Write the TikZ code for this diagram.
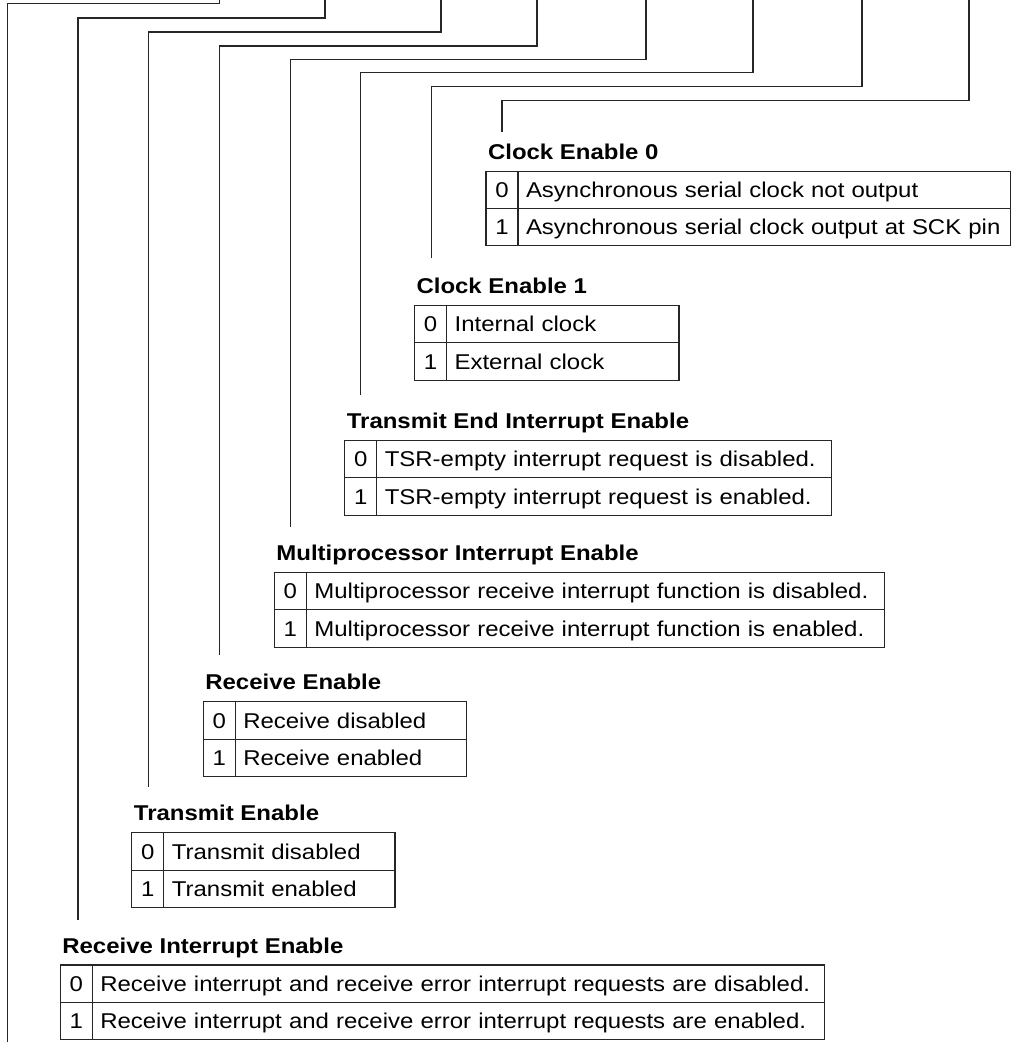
\documentclass[tikz,border=0pt]{standalone}
\usepackage{fontspec}
\setmainfont{Liberation Sans}[FakeStretch=1.12]
\usepackage{tikz}
\usetikzlibrary{positioning}

\begin{document}
\begin{tikzpicture}[x=1pt, y=-1pt, font=\fontsize{21.4}{25}\selectfont,
    line width=1.1pt, draw=black!85,
    ttl/.style={font=\fontsize{21.4}{25}\selectfont\bfseries, anchor=base west, inner sep=0pt},
    bit/.style={draw=black!85, anchor=north west, outer sep=0pt, inner sep=0pt, minimum width=32pt, minimum height=37.2pt, text height=18pt, text depth=2.7pt},
    desc/.style={draw=black!85, anchor=north west, outer sep=0pt, inner xsep=8pt, inner ysep=0pt, minimum height=37.2pt, text height=18pt, text depth=2.7pt, text width=#1, align=left}]
\useasboundingbox (0,0) rectangle (1014,1042);
% Clock Enable 0
\node[ttl] (cke0) at (487.5,159.5) {Clock Enable 0};
\node[bit] (cke0b0) at (486,171.5) {0};
\node[desc=476.7pt, right=0pt of cke0b0] (cke0d0) {Asynchronous serial clock not output};
\node[bit, below=0pt of cke0b0] (cke0b1) {1};
\node[desc=476.7pt, right=0pt of cke0b1] (cke0d1) {Asynchronous serial clock output at SCK pin};
% Clock Enable 1
\node[ttl] (cke1) at (416,293.7) {Clock Enable 1};
\node[bit] (cke1b0) at (414.6,305.7) {0};
\node[desc=216.4pt, right=0pt of cke1b0] (cke1d0) {Internal clock};
\node[bit, below=0pt of cke1b0] (cke1b1) {1};
\node[desc=216.4pt, right=0pt of cke1b1] (cke1d1) {External clock};
% Transmit End Interrupt Enable
\node[ttl] (teie) at (346.3,428.7) {Transmit End Interrupt Enable};
\node[bit] (teieb0) at (344.8,440.7) {0};
\node[desc=438.7pt, right=0pt of teieb0] (teied0) {TSR-empty interrupt request is disabled.};
\node[bit, below=0pt of teieb0] (teieb1) {1};
\node[desc=438.7pt, right=0pt of teieb1] (teied1) {TSR-empty interrupt request is enabled.};
% Multiprocessor Interrupt Enable
\node[ttl] (mpie) at (275.9,560.7) {Multiprocessor Interrupt Enable};
\node[bit] (mpieb0) at (274.4,572.7) {0};
\node[desc=562.4pt, right=0pt of mpieb0] (mpied0) {Multiprocessor receive interrupt function is disabled.};
\node[bit, below=0pt of mpieb0] (mpieb1) {1};
\node[desc=562.4pt, right=0pt of mpieb1] (mpied1) {Multiprocessor receive interrupt function is enabled.};
% Receive Enable
\node[ttl] (re) at (204.8,689.9) {Receive Enable};
\node[bit] (reb0) at (203.3,701.9) {0};
\node[desc=215.4pt, right=0pt of reb0] (red0) {Receive disabled};
\node[bit, below=0pt of reb0] (reb1) {1};
\node[desc=215.4pt, right=0pt of reb1] (red1) {Receive enabled};
% Transmit Enable
\node[ttl] (te) at (133.4,820.9) {Transmit Enable};
\node[bit] (teb0) at (131.9,832.9) {0};
\node[desc=215.1pt, right=0pt of teb0] (ted0) {Transmit disabled};
\node[bit, below=0pt of teb0] (teb1) {1};
\node[desc=215.1pt, right=0pt of teb1] (ted1) {Transmit enabled};
% Receive Interrupt Enable
\node[ttl] (rie) at (61.8,953) {Receive Interrupt Enable};
\node[bit] (rieb0) at (60.3,965) {0};
\node[desc=716pt, right=0pt of rieb0] (ried0) {Receive interrupt and receive error interrupt requests are disabled.};
\node[bit, below=0pt of rieb0] (rieb1) {1};
\node[desc=716pt, right=0pt of rieb1] (ried1) {Receive interrupt and receive error interrupt requests are enabled.};
% Bit lines
\coordinate (tieTop) at (219.7,0);   \coordinate (tieEnd) at (7.3,1042);
\coordinate (rieTop) at (325,0);     \coordinate (rieEnd) at (78,920);
\coordinate (teTop) at (441,0);      \coordinate (teEnd) at (148.7,786.7);
\coordinate (reTop) at (537,0);      \coordinate (reEnd) at (219.3,655);
\coordinate (mpieTop) at (646,0);    \coordinate (mpieEnd) at (290.7,527);
\coordinate (teieTop) at (753,0);    \coordinate (teieEnd) at (360.7,395);
\coordinate (cke1Top) at (862,0);    \coordinate (cke1End) at (431.7,258.3);
\coordinate (cke0Top) at (969,0);    \coordinate (cke0End) at (502,131.7);
\draw (tieTop) -- ++(0,3.3) -| (tieEnd);
\draw (rieTop) -- ++(0,18) -| (rieEnd);
\draw (teTop) -- ++(0,32) -| (teEnd);
\draw (reTop) -- ++(0,46) -| (reEnd);
\draw (mpieTop) -- ++(0,59.3) -| (mpieEnd);
\draw (teieTop) -- ++(0,72.7) -| (teieEnd);
\draw (cke1Top) -- ++(0,86.7) -| (cke1End);
\draw (cke0Top) -- ++(0,100.3) -| (cke0End);
\end{tikzpicture}
\end{document}
